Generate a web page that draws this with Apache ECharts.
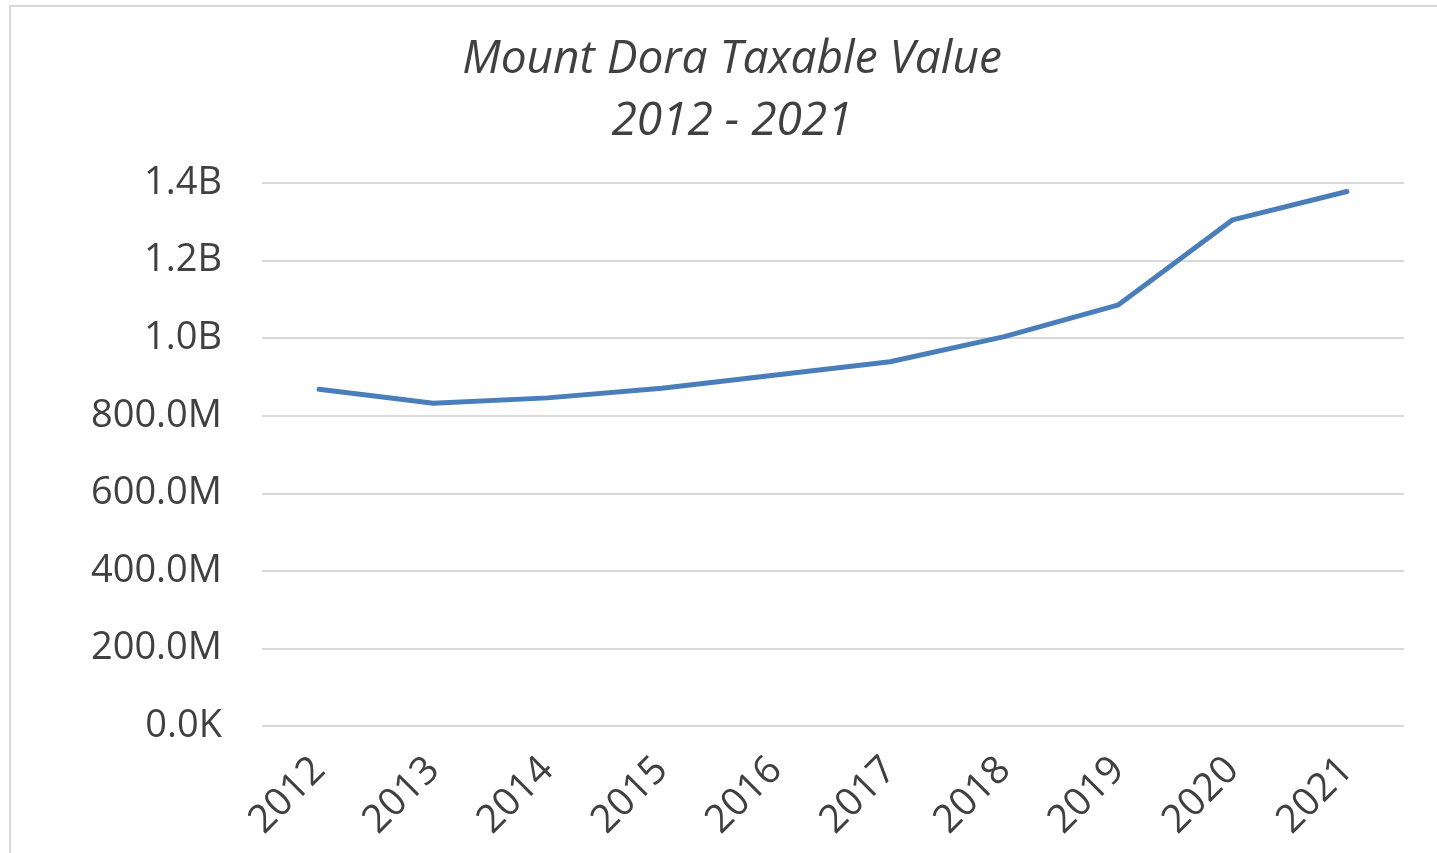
<!DOCTYPE html>
<html>
<head>
<meta charset="utf-8">
<title>Mount Dora Taxable Value</title>
<script src="https://cdn.jsdelivr.net/npm/echarts@6/dist/echarts.min.js"></script>
<style>
  html, body { margin: 0; padding: 0; background: #fff; }
  #frame {
    position: absolute; left: 9px; top: 5px; right: 0; bottom: 0;
    border-top: 2px solid #d9d9d9; border-left: 2px solid #d9d9d9;
  }
  #chart { position: absolute; left: 0; top: 0; width: 1437px; height: 853px; }
</style>
</head>
<body>
<div id="frame"></div>
<div id="chart"></div>
<script>
// 数据
var years = ['2012', '2013', '2014', '2015', '2016', '2017', '2018', '2019', '2020', '2021'];
var taxableValue = [868e6, 832e6, 846e6, 871e6, 905e6, 939e6, 1004e6, 1086e6, 1305e6, 1378e6];
var titleLines = ['Mount Dora Taxable Value', '2012 - 2021'];

var fontFamily = '"Open Sans", "Liberation Sans", sans-serif';
var textColor = '#404040';

function fmtAxis(v) {
  if (v >= 1e9) return (v / 1e9).toFixed(1) + 'B';
  if (v >= 1e6) return (v / 1e6).toFixed(1) + 'M';
  return (v / 1e3).toFixed(1) + 'K';
}

var myChart = echarts.init(document.getElementById('chart'));
var option = {
  backgroundColor: 'transparent',
  animation: false,
  graphic: [
    {
      type: 'text', x: 732, y: 60,
      style: {
        text: titleLines[0], align: 'center', verticalAlign: 'middle',
        font: 'italic 46px ' + fontFamily, fill: textColor
      }
    },
    {
      type: 'text', x: 732, y: 122,
      style: {
        text: titleLines[1], align: 'center', verticalAlign: 'middle',
        font: 'italic 46px ' + fontFamily, fill: textColor
      }
    }
  ],
  grid: { left: 262, right: 33, top: 183, bottom: 127 },
  xAxis: {
    type: 'category',
    data: years,
    boundaryGap: true,
    axisLine: { show: false },
    axisTick: { show: false },
    axisLabel: {
      rotate: 45, margin: 38,
      fontFamily: fontFamily, fontSize: 39, color: textColor
    }
  },
  yAxis: {
    type: 'value',
    min: 0, max: 1.4e9, interval: 2e8,
    axisLine: { show: false },
    axisTick: { show: false },
    splitLine: { lineStyle: { color: '#d9d9d9', width: 2 } },
    axisLabel: {
      margin: 40,
      formatter: fmtAxis,
      fontFamily: fontFamily, fontSize: 38, color: textColor
    }
  },
  series: [
    {
      type: 'line',
      data: taxableValue,
      showSymbol: false,
      lineStyle: { color: '#4a7ebb', width: 5, cap: 'round', join: 'round' },
      itemStyle: { color: '#4a7ebb' }
    }
  ]
};
myChart.setOption(option);
</script>
</body>
</html>
